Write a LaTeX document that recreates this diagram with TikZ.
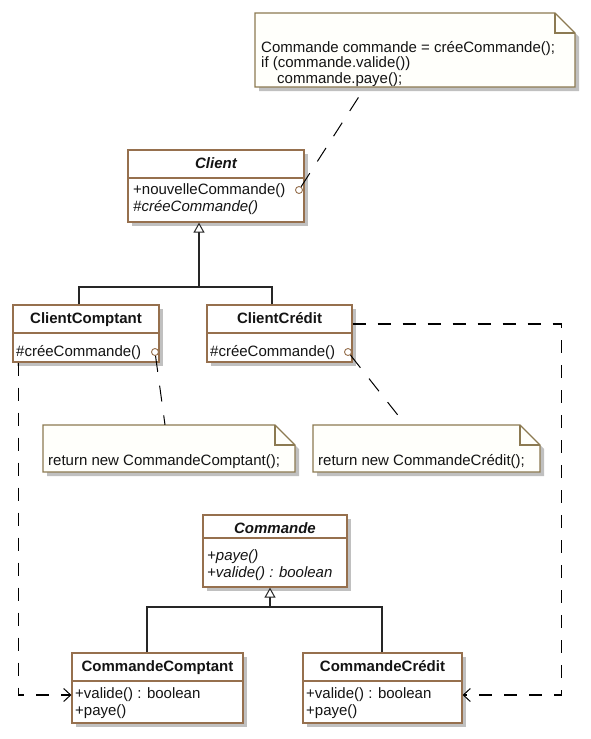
\documentclass[tikz,border=0pt]{standalone}
\usepackage{fontspec}
\setmainfont{Liberation Sans}
\usetikzlibrary{arrows.meta,fit}
\definecolor{brd}{RGB}{150,112,78}
\definecolor{nbrd}{RGB}{140,122,82}
\definecolor{shd}{RGB}{192,192,192}
\definecolor{nfill}{RGB}{255,255,251}
\definecolor{txt}{RGB}{20,20,20}
\tikzset{
  clsfr/.style={draw=brd, line width=1.2pt, fill=white, inner sep=0pt},
  divl/.style={draw=brd, line width=1.2pt},
  notefr/.style={draw=nbrd, line width=1.1pt, fill=nfill},
  foldl/.style={draw=nbrd, line width=1.1pt},
  ttl/.style={font=\fontsize{15}{17}\selectfont\bfseries, text=txt, inner sep=0pt, anchor=base},
  opl/.style={font=\fontsize{15}{17}\selectfont, text=txt, inner sep=0pt, anchor=base west},
  knob/.style={circle, draw=brd, fill=white, line width=0.9pt, minimum size=7pt, inner sep=0pt},
  notelink/.style={draw=black, line width=1pt, dash pattern=on 16pt off 14pt},
  gen/.style={draw=black!85, line width=1.4pt},
  gentip/.style={gen, -{Triangle[open, length=10pt, width=11pt, fill=white, line width=1pt]}},
  dep/.style={draw=black, line width=1.1pt, dash pattern=on 13pt off 12pt, -{Straight Barb[length=7pt, width=13pt, line width=1pt]}}
}
\newcommand{\umlclass}[6]{%
  \fill[shd] (#2+4,#3+4) rectangle (#4+4,#5+4);
  \node[clsfr, fit={(#2,#3) (#4,#5)}] (#1) {};
  \draw[divl] (#2,#6) -- (#4,#6);
}
\newcommand{\umlnote}[5]{%
  \fill[shd] (#2+4,#3+4) -- (#4+4-20,#3+4) -- (#4+4,#3+24) -- (#4+4,#5+4) -- (#2+4,#5+4) -- cycle;
  \node[fit={(#2,#3) (#4,#5)}, inner sep=0pt] (#1) {};
  \draw[notefr] (#2,#3) -- (#4-20,#3) -- (#4,#3+20) -- (#4,#5) -- (#2,#5) -- cycle;
  \draw[foldl] (#4-20,#3) -- (#4-20,#3+20) -- (#4,#3+20);
}
\begin{document}
\begin{tikzpicture}[x=1pt,y=-1pt]
\fill[white] (0,0) rectangle (590,739);
\useasboundingbox (0,0) rectangle (590,739);

% ---- notes ----
\umlnote{n1}{255}{13}{575}{87}
\node[opl] (n1a) at (261,52) {Commande commande = créeCommande();};
\node[opl] (n1b) at (261,67) {if (commande.valide())};
\node[opl] (n1c) at (277,83) {commande.paye();};

\umlnote{n2}{43}{425}{295}{472}
\node[opl] (n2a) at (48,465) {return new CommandeComptant();};

\umlnote{n3}{313}{425}{540}{472}
\node[opl] (n3a) at (318,465) {return new CommandeCrédit();};

% ---- classes ----
\umlclass{client}{128}{150}{304}{222}{178}
\node[ttl] (clientt) at (216,168) {\itshape Client};
\node[opl] (clienta) at (133,194) {+nouvelleCommande()};
\node[opl] (clientb) at (133,211) {\itshape \#créeCommande()};

\umlclass{ccomp}{13}{305}{159}{362}{333}
\node[ttl] (ccompt) at (86,323) {ClientComptant};
\node[opl] (ccompa) at (16,356) {\#créeCommande()};

\umlclass{ccred}{207}{305}{352}{362}{333}
\node[ttl] (ccredt) at (279.5,323) {ClientCrédit};
\node[opl] (ccreda) at (210,356) {\#créeCommande()};

\umlclass{cmd}{203}{515}{347}{587}{538}
\node[ttl] (cmdt) at (275,533) {\itshape Commande};
\node[opl] (cmda) at (207,560) {\itshape +paye()};
\node[opl] (cmdb) at (207,577) {\itshape +valide() : boolean};

\umlclass{comcomp}{72}{653}{243}{723}{681}
\node[ttl] (comcompt) at (157.5,671) {CommandeComptant};
\node[opl] (comcompa) at (75,698) {+valide() : boolean};
\node[opl] (comcompb) at (75,715) {+paye()};

\umlclass{comcred}{303}{653}{462}{723}{681}
\node[ttl] (comcredt) at (382.5,671) {CommandeCrédit};
\node[opl] (comcreda) at (306,698) {+valide() : boolean};
\node[opl] (comcredb) at (306,715) {+paye()};

% ---- note links ----
\node[knob] (k1) at (299,190) {};
\node[knob] (k2) at (155,352) {};
\node[knob] (k3) at (348,352) {};
\draw[notelink] (k1) -- ([xshift=-50pt]n1.south);
\draw[notelink] (k2) -- ([xshift=-4pt]n2.north);
\draw[notelink] (k3) -- ([xshift=-21pt]n3.north);

% ---- generalisations ----
\coordinate (j1) at (199,287);
\draw[gentip] ([xshift=-7pt]ccomp.north) |- (j1) -- ([xshift=-17pt]client.south);
\draw[gen] ([xshift=-7.5pt]ccred.north) |- (j1);

\coordinate (j2) at (270,607);
\draw[gentip] ([xshift=-10.5pt]comcomp.north) |- (j2) -- ([xshift=-5pt]cmd.south);
\draw[gen] ([xshift=-0.5pt]comcred.north) |- (j2);

% ---- dependencies ----
\draw[dep] ([xshift=6pt]ccomp.south west) |- ([yshift=-7pt]comcomp.west);
\draw[dep] ([yshift=9.5pt]ccred.east) -- ++(209,0) |- ([yshift=-7pt]comcred.east);
\end{tikzpicture}
\end{document}
